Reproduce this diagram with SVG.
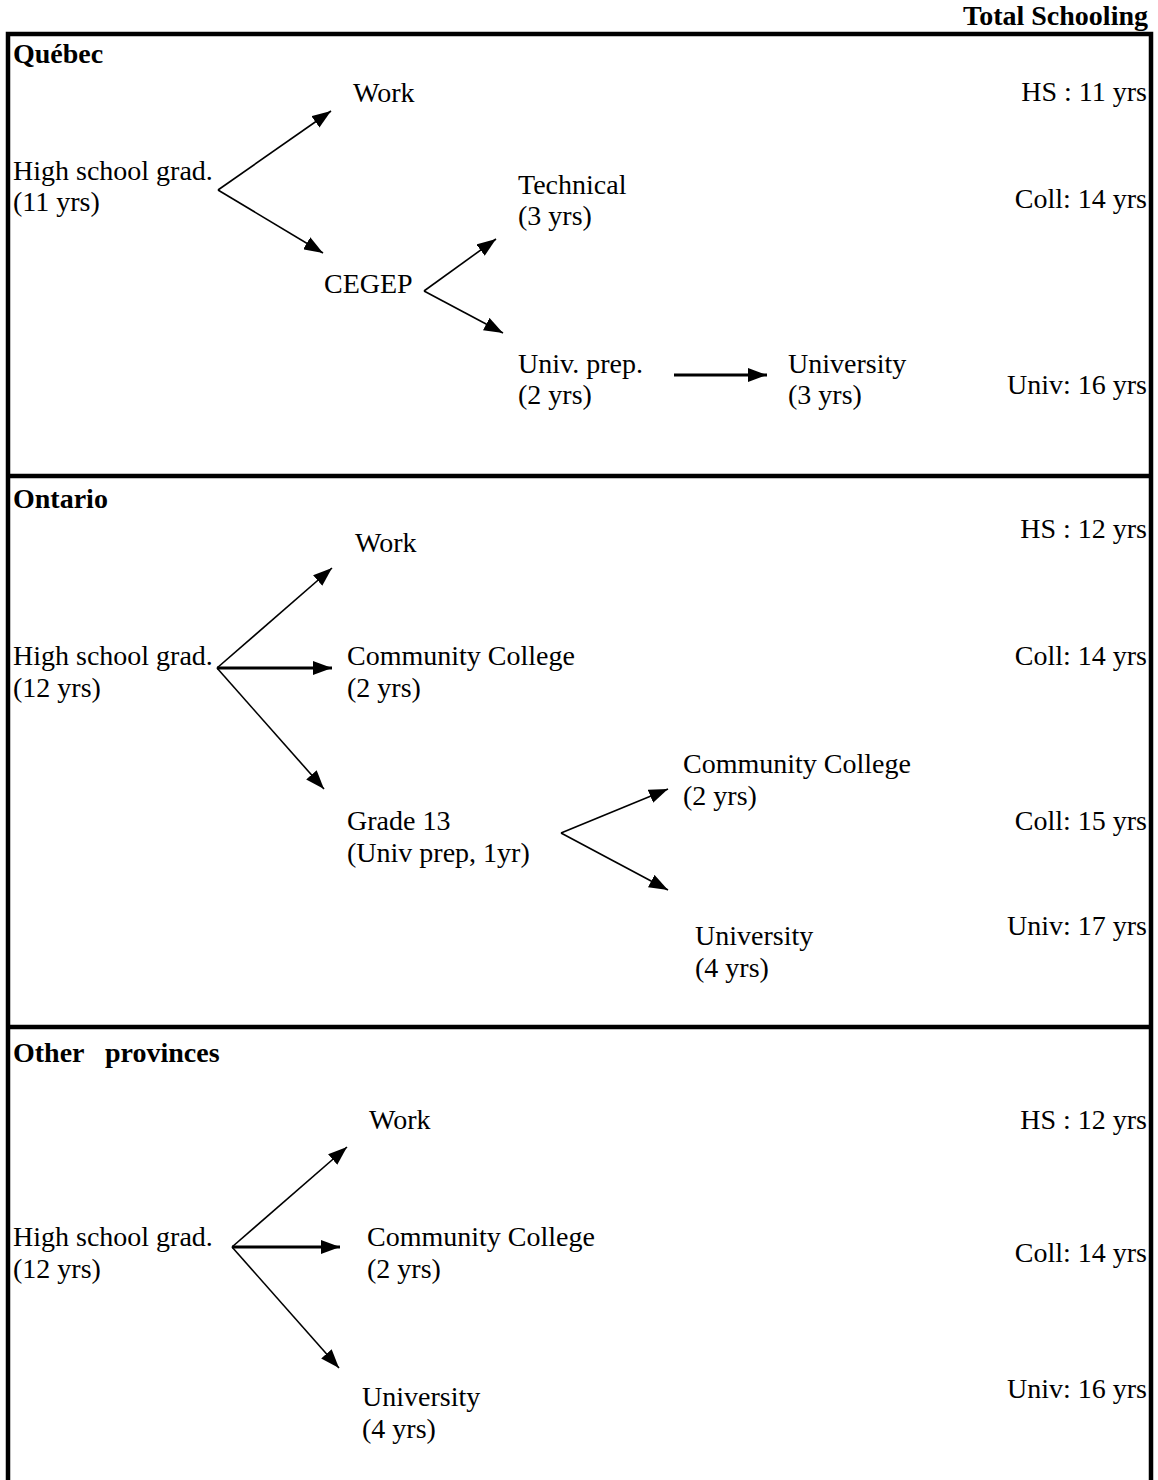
<svg xmlns="http://www.w3.org/2000/svg" width="1158" height="1480" viewBox="0 0 1158 1480">
<defs>
<marker id="ah" markerUnits="userSpaceOnUse" markerWidth="20" markerHeight="14" viewBox="0 0 20 14" refX="19" refY="7" orient="auto">
<path d="M0,0 L19,7 L0,14 Z" fill="#000"/>
</marker>
<style>
text{font-family:"Liberation Serif","Times New Roman",serif;font-size:28px;fill:#000}
.b{font-weight:bold}
.r{text-anchor:end}
.frame{stroke:#000;stroke-width:4.5;fill:none}
.c{stroke:#000;stroke-width:1.6;fill:none;marker-end:url(#ah)}
.t{stroke:#000;stroke-width:3;fill:none;marker-end:url(#ah)}
</style>
</defs>
<rect width="1158" height="1480" fill="#fff"/>
<g id="frame">
<path class="frame" d="M8,1480 V34 H1151 V1480"/>
<path class="frame" d="M6,476 H1153"/>
<path class="frame" d="M6,1027 H1153"/>
</g>
<text id="total" class="b r" x="1148" y="25">Total Schooling</text>
<g id="quebec">
<text class="b" x="13" y="63">Québec</text>
<g id="q-hs"><text x="13" y="180">High school grad.</text><text x="13" y="211">(11 yrs)</text></g>
<g id="q-work"><text x="353" y="102">Work</text></g>
<g id="q-cegep"><text x="324" y="293">CEGEP</text></g>
<g id="q-tech"><text x="518" y="194">Technical</text><text x="518" y="225">(3 yrs)</text></g>
<g id="q-prep"><text x="518" y="373">Univ. prep.</text><text x="518" y="404">(2 yrs)</text></g>
<g id="q-univ"><text x="788" y="373">University</text><text x="788" y="404">(3 yrs)</text></g>
<g id="q-tot"><text class="r" x="1147" y="101">HS : 11 yrs</text><text class="r" x="1147" y="208">Coll: 14 yrs</text><text class="r" x="1147" y="394">Univ: 16 yrs</text></g>
</g>
<g id="ontario">
<text class="b" x="13" y="508">Ontario</text>
<g id="o-hs"><text x="13" y="665">High school grad.</text><text x="13" y="697">(12 yrs)</text></g>
<g id="o-work"><text x="355" y="552">Work</text></g>
<g id="o-cc"><text x="347" y="665">Community College</text><text x="347" y="697">(2 yrs)</text></g>
<g id="o-g13"><text x="347" y="830">Grade 13</text><text x="347" y="862">(Univ prep, 1yr)</text></g>
<g id="o-cc2"><text x="683" y="773">Community College</text><text x="683" y="805">(2 yrs)</text></g>
<g id="o-univ"><text x="695" y="945">University</text><text x="695" y="977">(4 yrs)</text></g>
<g id="o-tot"><text class="r" x="1147" y="538">HS : 12 yrs</text><text class="r" x="1147" y="665">Coll: 14 yrs</text><text class="r" x="1147" y="830">Coll: 15 yrs</text><text class="r" x="1147" y="935">Univ: 17 yrs</text></g>
</g>
<g id="other">
<text class="b" x="13" y="1062" xml:space="preserve">Other   provinces</text>
<g id="p-hs"><text x="13" y="1246">High school grad.</text><text x="13" y="1278">(12 yrs)</text></g>
<g id="p-work"><text x="369" y="1129">Work</text></g>
<g id="p-cc"><text x="367" y="1246">Community College</text><text x="367" y="1278">(2 yrs)</text></g>
<g id="p-univ"><text x="362" y="1406">University</text><text x="362" y="1438">(4 yrs)</text></g>
<g id="p-tot"><text class="r" x="1147" y="1129">HS : 12 yrs</text><text class="r" x="1147" y="1262">Coll: 14 yrs</text><text class="r" x="1147" y="1398">Univ: 16 yrs</text></g>
</g>
<g id="connectors">
<line class="c" x1="218" y1="190" x2="331" y2="111"/>
<line class="c" x1="218" y1="190" x2="323" y2="253"/>
<line class="c" x1="424" y1="291" x2="496" y2="239"/>
<line class="c" x1="424" y1="291" x2="503" y2="333"/>
<line class="t" x1="674" y1="375" x2="767" y2="375"/>
<line class="c" x1="217" y1="668" x2="332" y2="568"/>
<line class="t" x1="217" y1="668" x2="332" y2="668"/>
<line class="c" x1="217" y1="668" x2="324" y2="789"/>
<line class="c" x1="561" y1="833" x2="668" y2="789"/>
<line class="c" x1="561" y1="833" x2="668" y2="890"/>
<line class="c" x1="232" y1="1247" x2="347" y2="1147"/>
<line class="t" x1="232" y1="1247" x2="340" y2="1247"/>
<line class="c" x1="232" y1="1247" x2="339" y2="1368"/>
</g>
</svg>
